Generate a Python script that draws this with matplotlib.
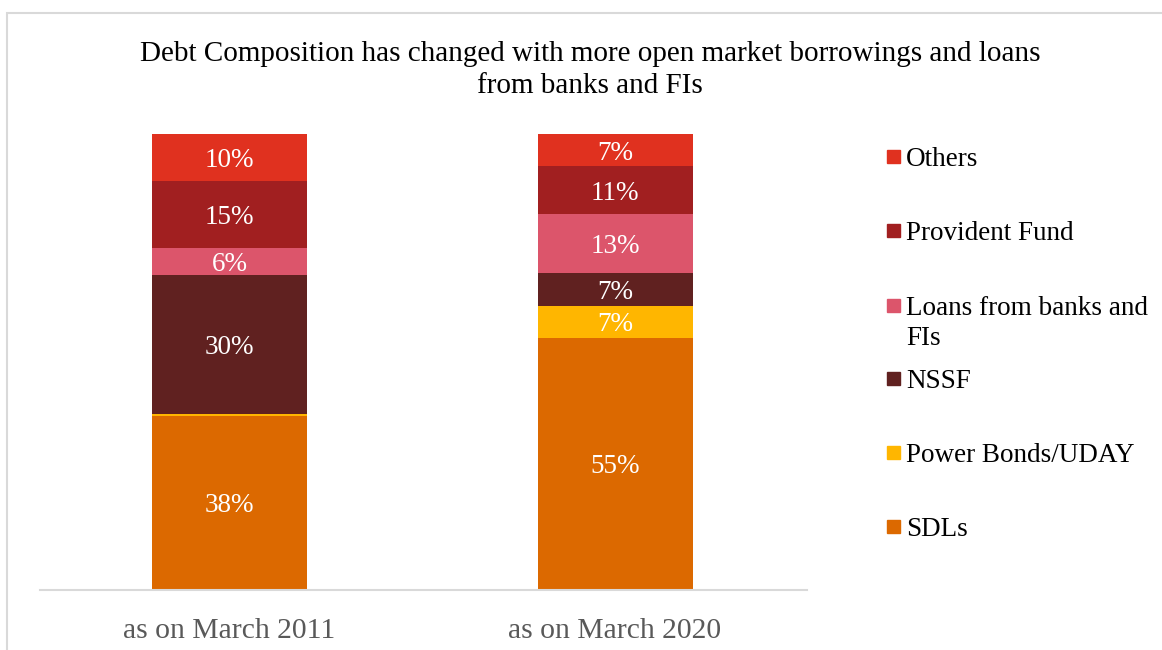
import numpy as np
import matplotlib.pyplot as plt
from matplotlib.patches import Rectangle

plt.rcParams['font.family'] = ['Liberation Serif', 'DejaVu Serif']

# data (percent of total debt)
periods = ['as on March 2011', 'as on March 2020']
series = ['SDLs', 'Power Bonds/UDAY', 'NSSF', 'Loans from banks and FIs',
          'Provident Fund', 'Others']
sdls = [38.2, 55.3]
power_bonds = [0.5, 6.95]
nssf = [30.3, 7.3]
loans = [6.1, 12.8]
provident_fund = [14.7, 10.6]
others = [10.1, 7.0]
legend_labels = ['Others', 'Provident Fund', 'Loans from banks and\nFIs',
                 'NSSF', 'Power Bonds/UDAY', 'SDLs']

colors = ['#DC6900', '#FFB600', '#602120', '#DC556B', '#A11F20', '#E0311F']
values = [sdls, power_bonds, nssf, loans, provident_fund, others]

fig = plt.figure(figsize=(11.62, 6.5), dpi=100)
ax = fig.add_axes([40 / 1162, 1 - 590 / 650, 767 / 1162, 456 / 650])

x = np.arange(len(periods))
bottom = np.zeros(len(periods))
for vals, col in zip(values, colors):
    vals = np.array(vals)
    ax.bar(x, vals, 0.402, bottom=bottom, color=col, edgecolor='none')
    for xi, b, v in zip(x, bottom, vals):
        if v >= 1:
            ax.text(xi, b + v / 2, '%d%%' % round(v), ha='center',
                    va='center_baseline', color='white', fontsize=19.5)
    bottom += vals

ax.set_xlim(-0.4916, 1.498)
ax.set_ylim(0, 100)
ax.set_xticks(x)
ax.set_xticklabels(periods, fontsize=21.3, color='#595959')
ax.tick_params(axis='x', length=0, pad=20)
ax.set_yticks([])
for s in ['top', 'right', 'left']:
    ax.spines[s].set_visible(False)
ax.spines['bottom'].set_color('#D9D9D9')
ax.spines['bottom'].set_linewidth(1.5)

fig.text(590 / 1162, 1 - 70 / 650,
         'Debt Composition has changed with more open market borrowings and loans\nfrom banks and FIs',
         ha='center', va='center', fontsize=21, linespacing=1.28)

# legend drawn by hand to keep the spacing of the original
leg_y = [157, 231, 306, 379, 453, 527]
for lab, col, yy in zip(legend_labels, colors[::-1], leg_y):
    fig.patches.append(Rectangle((887 / 1162, 1 - (yy + 6) / 650), 13 / 1162, 13 / 650,
                                 transform=fig.transFigure, color=col))
    fig.text(906 / 1162, 1 - (yy - 10) / 650, lab, ha='left', va='top',
             fontsize=19.5, linespacing=1.26)

# outer chart border
fig.patches.append(Rectangle((7 / 1162, -0.05), 1.1, 1 - 13 / 650 + 0.05,
                             transform=fig.transFigure, fill=False,
                             edgecolor='#D9D9D9', linewidth=1.5))

fig.savefig('out.png', dpi=100)
